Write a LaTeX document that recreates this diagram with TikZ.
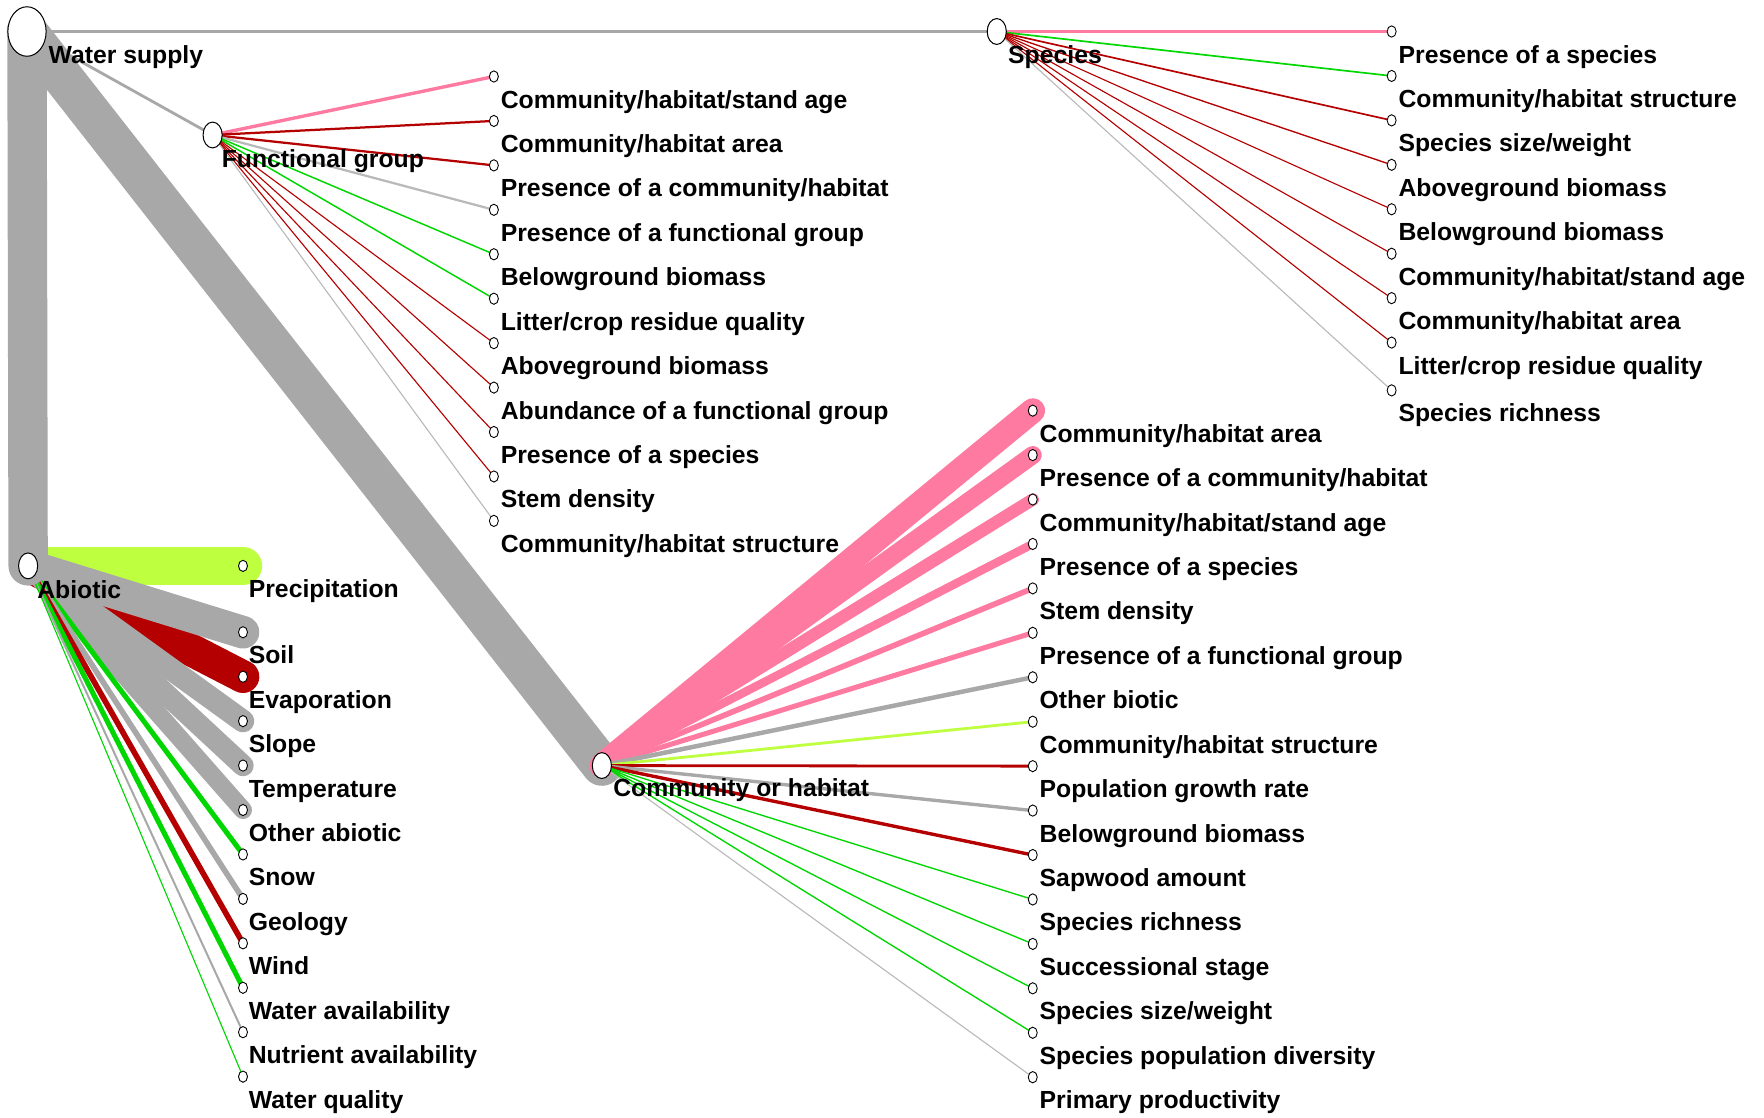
\documentclass[tikz,border=0pt]{standalone}
\usepackage{fontspec}
\setmainfont{Liberation Sans}
\usetikzlibrary{shapes.geometric}
\definecolor{BandGray}{RGB}{168,168,168}
\definecolor{ThinGray}{RGB}{185,185,185}
\definecolor{LinkPink}{RGB}{255,122,160}
\definecolor{LinkRed}{RGB}{180,0,0}
\definecolor{LinkLime}{RGB}{190,255,64}
\definecolor{LinkGreen}{RGB}{0,215,0}
\pgfdeclarelayer{links}
\pgfsetlayers{links,main}
\tikzset{
  hub/.style={ellipse, draw=black, fill=white, line width=0.9pt,
    minimum width=17pt, minimum height=23pt, inner sep=0pt},
  leaf/.style={ellipse, draw=black, fill=white, line width=0.8pt,
    minimum width=8pt, minimum height=10pt, inner sep=0pt},
  lbl/.style={anchor=base west, inner sep=0pt,
    font=\fontsize{22}{26}\selectfont\bfseries},
  link/.style={line cap=round}
}

\begin{document}
\begin{tikzpicture}[x=1pt, y=-1pt]
\useasboundingbox (0,0) rectangle (1568,993);

% hubs
\node[hub, minimum width=34pt, minimum height=44pt] (ws) at (24,28) {};
\node[hub] (sp) at (886,28) {};
\node[hub] (fg) at (189,120) {};
\node[hub] (ab) at (25,503) {};
\node[hub] (co) at (535,680.5) {};
\node[lbl] (ws-txt) at (43,56) {Water supply};
\node[lbl] (sp-txt) at (896,56) {Species};
\node[lbl] (fg-txt) at (197,149) {Functional group};
\node[lbl] (ab-txt) at (33,532) {Abiotic};
\node[lbl] (co-txt) at (545,708) {Community or habitat};

% abiotic (listed in drawing order)
\foreach \y/\c/\w/\t [count=\i] in {
  503/LinkLime/34/{Precipitation},
  601.5/LinkRed/29/{Evaporation},
  562/BandGray/29/{Soil},
  641/BandGray/20/{Slope},
  680.5/BandGray/19/{Temperature},
  720/BandGray/16/{Other abiotic},
  759.5/LinkGreen/4.5/{Snow},
  799/BandGray/5/{Geology},
  838.5/LinkRed/5/{Wind},
  878/LinkGreen/4.5/{Water availability},
  917.5/BandGray/1.8/{Nutrient availability},
  957/LinkGreen/1/{Water quality}}{
  \node[leaf] (ab\i) at (216,\y) {};
  \node[lbl] (ab\i-txt) at (221,\y+28) {\t};
  \begin{pgfonlayer}{links}
    \draw[link, draw=\c, line width=\w pt] (ab.center) -- (ab\i.center);
  \end{pgfonlayer}
}

\begin{pgfonlayer}{links}
  \draw[link, BandGray, line width=35pt] (ws.center) -- (ab.center);
  \draw[link, BandGray, line width=36pt] (ws.center) -- (co.center);
  \draw[link, BandGray, line width=2.5pt] (ws.center) -- (sp.center);
  \draw[link, BandGray, line width=2.5pt] (ws.center) -- (fg.center);
\end{pgfonlayer}

% functional group
\foreach \y/\c/\w/\t [count=\i] in {
  68/LinkPink/3/{Community/habitat/stand age},
  107.5/LinkRed/2/{Community/habitat area},
  147/LinkRed/2/{Presence of a community/habitat},
  186.5/ThinGray/2/{Presence of a functional group},
  226/LinkGreen/1.3/{Belowground biomass},
  265.5/LinkGreen/1.3/{Litter/crop residue quality},
  305/LinkRed/1/{Aboveground biomass},
  344.5/LinkRed/1/{Abundance of a functional group},
  384/LinkRed/1/{Presence of a species},
  423.5/LinkRed/1/{Stem density},
  463/ThinGray/1/{Community/habitat structure}}{
  \node[leaf] (fg\i) at (439,\y) {};
  \node[lbl] (fg\i-txt) at (445,\y+28) {\t};
  \begin{pgfonlayer}{links}
    \draw[link, draw=\c, line width=\w pt] (fg.center) -- (fg\i.center);
  \end{pgfonlayer}
}

% species
\foreach \y/\c/\w/\t [count=\i] in {
  28/LinkPink/3/{Presence of a species},
  67.5/LinkGreen/1.5/{Community/habitat structure},
  107/LinkRed/1.5/{Species size/weight},
  146.5/LinkRed/1.2/{Aboveground biomass},
  186/LinkRed/1/{Belowground biomass},
  225.5/LinkRed/1/{Community/habitat/stand age},
  265/LinkRed/1/{Community/habitat area},
  304.5/LinkRed/1/{Litter/crop residue quality},
  347/ThinGray/1/{Species richness}}{
  \node[leaf] (sp\i) at (1237,\y) {};
  \node[lbl] (sp\i-txt) at (1243,\y+28) {\t};
  \begin{pgfonlayer}{links}
    \draw[link, draw=\c, line width=\w pt] (sp.center) -- (sp\i.center);
  \end{pgfonlayer}
}

% community or habitat
\foreach \y/\c/\w/\t [count=\i] in {
  365/LinkPink/22/{Community/habitat area},
  404.5/LinkPink/16/{Presence of a community/habitat},
  444/LinkPink/11/{Community/habitat/stand age},
  483.5/LinkPink/7.5/{Presence of a species},
  523/LinkPink/5/{Stem density},
  562.5/LinkPink/4.5/{Presence of a functional group},
  602/BandGray/4/{Other biotic},
  641.5/LinkLime/2.5/{Community/habitat structure},
  681/LinkRed/2.5/{Population growth rate},
  720.5/BandGray/3/{Belowground biomass},
  760/LinkRed/3/{Sapwood amount},
  799.5/LinkGreen/1.2/{Species richness},
  839/LinkGreen/1.2/{Successional stage},
  878.5/LinkGreen/1.2/{Species size/weight},
  918/LinkGreen/1.2/{Species population diversity},
  957.5/ThinGray/1/{Primary productivity}}{
  \node[leaf] (co\i) at (918,\y) {};
  \node[lbl] (co\i-txt) at (924,\y+28) {\t};
  \begin{pgfonlayer}{links}
    \draw[link, draw=\c, line width=\w pt] (co.center) -- (co\i.center);
  \end{pgfonlayer}
}
\end{tikzpicture}
\end{document}
